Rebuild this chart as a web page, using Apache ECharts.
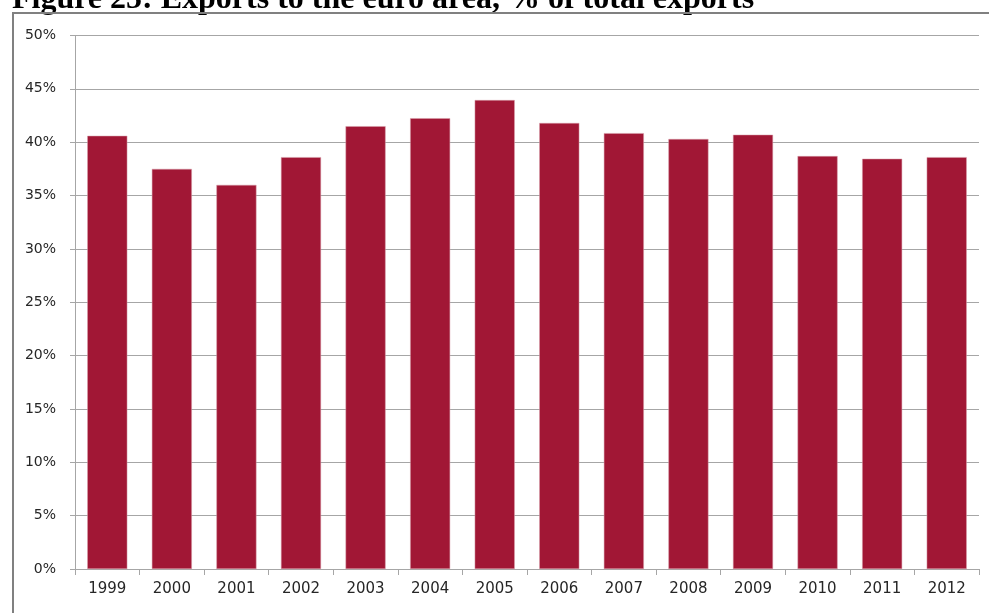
<!DOCTYPE html>
<html><head><meta charset="utf-8">
<script src="https://cdn.jsdelivr.net/npm/echarts@6/dist/echarts.min.js"></script>
<style>html,body{margin:0;padding:0;background:#fff;}#c{width:989px;height:613px;}</style>
</head><body><div id="c"></div>
<script>
const titleText = "Figure 25: Exports to the euro area, % of total exports";
const years = ["1999","2000","2001","2002","2003","2004","2005","2006","2007","2008","2009","2010","2011","2012"];
const exportsShare = [40.6, 37.5, 36.0, 38.6, 41.5, 42.25, 43.95, 41.8, 40.85, 40.3, 40.7, 38.7, 38.45, 38.6];
const yTicks = [0, 5, 10, 15, 20, 25, 30, 35, 40, 45, 50];

const labelFont = "'DejaVu Sans', Verdana, sans-serif";
const chart = echarts.init(document.getElementById('c'), null, {renderer: 'canvas'});
chart.setOption({
  animation: false,
  backgroundColor: '#fff',
  graphic: [
    {type: 'rect', shape: {x: 13, y: 13, width: 1000, height: 700}, style: {fill: 'none', stroke: '#808080', lineWidth: 2}, silent: true, z: 10},
    {type: 'text', x: 12, y: -16, z: 5, style: {text: titleText, font: 'bold 32px "Liberation Serif", "Times New Roman", serif', fill: '#000'}}
  ],
  grid: {left: 75, right: 10, top: 35.5, bottom: 44, containLabel: false},
  xAxis: {
    type: 'category', data: years,
    axisLine: {show: true, lineStyle: {color: '#a6a6a6', width: 1}},
    axisTick: {show: true, length: 6, lineStyle: {color: '#a6a6a6'}, alignWithLabel: false},
    axisLabel: {color: '#262626', fontFamily: labelFont, fontSize: 15, margin: 13}
  },
  yAxis: {
    type: 'value', min: yTicks[0], max: yTicks[yTicks.length - 1], interval: 5,
    axisLine: {show: true, lineStyle: {color: '#a6a6a6'}},
    axisTick: {show: true, length: 5, lineStyle: {color: '#a6a6a6'}},
    splitLine: {show: true, lineStyle: {color: '#a6a6a6', width: 1}},
    axisLabel: {color: '#262626', fontFamily: labelFont, fontSize: 14, margin: 19, formatter: v => v + '%'}
  },
  series: [{
    type: 'bar', data: exportsShare, barCategoryGap: '38%',
    itemStyle: {color: '#a11735', borderColor: '#d9a0ad', borderWidth: 0.5}
  }]
});
</script></body></html>
